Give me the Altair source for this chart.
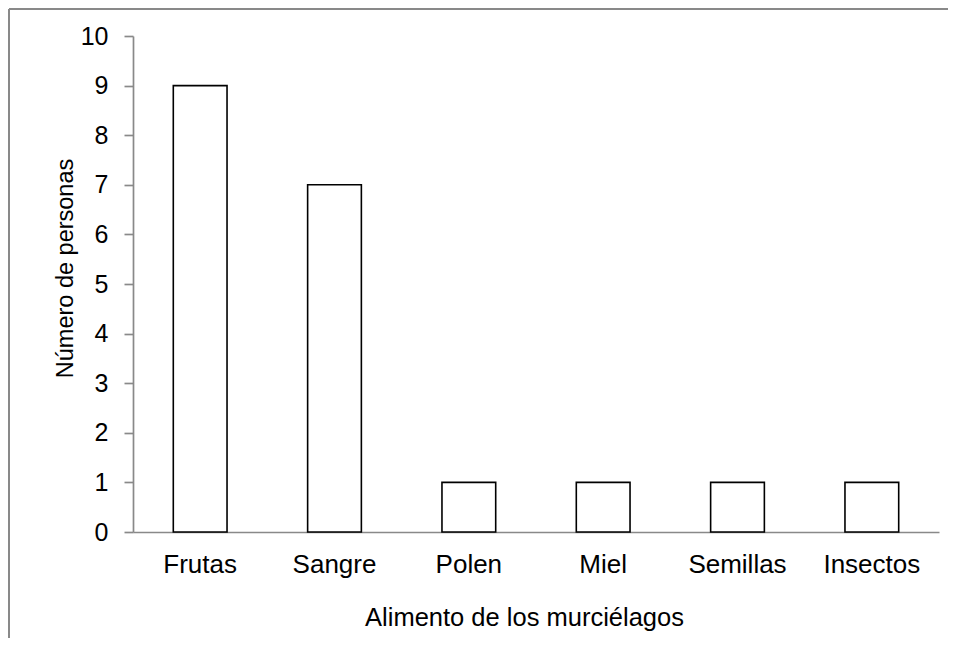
import altair as alt
import pandas as pd

categories = ["Frutas", "Sangre", "Polen", "Miel", "Semillas", "Insectos"]
values = [9, 7, 1, 1, 1, 1]
y_ticks = list(range(0, 11))

df = pd.DataFrame({"alimento": categories, "personas": values})

FONT = "Liberation Sans"
GRAY = "#898989"

bars = alt.Chart(df).mark_bar(
    fill="white", stroke="black", strokeWidth=1.6
).encode(
    x=alt.X(
        "alimento:N",
        sort=categories,
        scale=alt.Scale(paddingInner=0.6, paddingOuter=0.3),
        axis=alt.Axis(
            title="Alimento de los murciélagos",
            labelAngle=0,
            ticks=False,
            labelPadding=40,
            labelBaseline="alphabetic",
            labelFont=FONT,
            labelFontSize=26,
            labelColor="black",
            domainColor=GRAY,
            domainWidth=1.7,
            titleFont=FONT,
            titleFontSize=25.5,
            titleFontWeight="normal",
            titleColor="black",
            titleX=391,
            titleY=93,
            titleBaseline="alphabetic",
        ),
    ),
    y=alt.Y(
        "personas:Q",
        scale=alt.Scale(domain=[0, 10], nice=False),
        axis=alt.Axis(
            title="Número de personas",
            values=y_ticks,
            grid=False,
            tickSize=9,
            tickColor=GRAY,
            tickWidth=1.7,
            domainColor=GRAY,
            domainWidth=1.7,
            labelFont=FONT,
            labelFontSize=25,
            labelColor="black",
            labelPadding=16,
            titleFont=FONT,
            titleFontSize=23.5,
            titleFontWeight="normal",
            titleColor="black",
            titleAngle=270,
            titleX=-61,
            titleY=232,
            titleAlign="center",
            titleBaseline="alphabetic",
        ),
    ),
)

frame_df = pd.DataFrame({"k": [0]})
left_border = alt.Chart(frame_df).mark_rule(color=GRAY, strokeWidth=2).encode(
    x=alt.value(-124), y=alt.value(-27), y2=alt.value(620)
)
top_border = alt.Chart(frame_df).mark_rule(color=GRAY, strokeWidth=2).encode(
    x=alt.value(-124), x2=alt.value(815), y=alt.value(-27)
)

chart = alt.layer(bars, left_border, top_border).properties(
    width=806,
    height=496,
    autosize=alt.AutoSizeParams(type="none"),
    padding={"left": 125, "top": 28, "right": 9, "bottom": 106},
    background="white",
).configure_view(stroke=None)

chart.save("out.html", embed_options={"renderer": "svg", "actions": False})
